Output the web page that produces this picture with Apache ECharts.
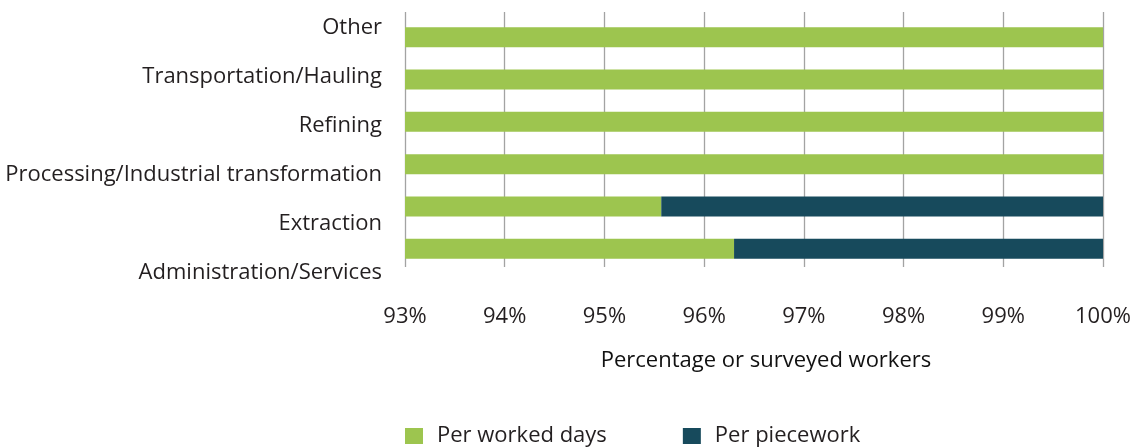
<!DOCTYPE html>
<html>
<head>
<meta charset="utf-8">
<script src="https://cdn.jsdelivr.net/npm/echarts@6/dist/echarts.min.js"></script>
<style>
  html, body { margin: 0; padding: 0; background: #fff; }
  #chart { width: 1145px; height: 448px; }
</style>
</head>
<body>
<div id="chart"></div>
<script>
// Sectors, listed top to bottom
const sectors = [
  'Other',
  'Transportation/Hauling',
  'Refining',
  'Processing/Industrial transformation',
  'Extraction',
  'Administration/Services'
];
// Share of surveyed workers by pay method (%)
const perWorkedDays = [100, 100, 100, 100, 95.57, 96.30];
const perPiecework  = [0, 0, 0, 0, 4.43, 3.70];
// Horizontal scale
const axisMin = 93;
const axisMax = 100;
const axisStep = 1;

const FONT = '"Open Sans", "Noto Sans", sans-serif';
const FS = 22;
const GREEN = '#9dc54f';
const TEAL = '#174a5c';
const TEXT = '#231f20';

const chart = echarts.init(document.getElementById('chart'), null, { renderer: 'canvas' });

chart.setOption({
  animation: false,
  backgroundColor: '#fff',
  grid: [
    // bars
    { left: 405, right: 42, top: 16, height: 254 },
    // sector labels
    { left: 405, right: 42, top: 3, height: 294 },
    // vertical gridlines
    { left: 405, right: 42, top: 12, height: 255 }
  ],
  xAxis: [
    {
      gridIndex: 0, type: 'value', min: axisMin, max: axisMax, interval: axisStep,
      axisLine: { show: false }, axisTick: { show: false }, splitLine: { show: false },
      axisLabel: {
        formatter: '{value}%', fontFamily: FONT, fontSize: FS, color: TEXT,
        margin: 35, lineHeight: 24
      }
    },
    { gridIndex: 1, type: 'value', show: false, min: 0, max: 1 },
    {
      gridIndex: 2, type: 'value', min: axisMin, max: axisMax, interval: axisStep,
      axisLine: { show: false }, axisTick: { show: false }, axisLabel: { show: false },
      splitLine: { show: true, lineStyle: { color: '#a3a3a3', width: 1.3 } }
    }
  ],
  yAxis: [
    {
      gridIndex: 0, type: 'category', data: sectors, inverse: true,
      axisLine: { show: false }, axisTick: { show: false }, axisLabel: { show: false }
    },
    {
      gridIndex: 1, type: 'category', data: sectors, inverse: true,
      axisLine: { show: false }, axisTick: { show: false },
      axisLabel: { fontFamily: FONT, fontSize: FS, color: TEXT, margin: 23 }
    },
    {
      gridIndex: 2, type: 'category', data: sectors, inverse: true, show: false
    }
  ],
  legend: {
    left: 400, top: 420,
    itemWidth: 18, itemHeight: 16, itemGap: 76,
    icon: 'rect',
    textStyle: { fontFamily: FONT, fontSize: FS, color: TEXT, padding: [0, 0, 0, 9] },
    data: ['Per worked days', 'Per piecework']
  },
  graphic: [
    {
      type: 'text', x: 766, y: 361,
      style: {
        text: 'Percentage or surveyed workers',
        font: FS + 'px ' + FONT, fill: '#111',
        textAlign: 'center', textVerticalAlign: 'middle',
        align: 'center', verticalAlign: 'middle'
      }
    }
  ],
  series: [
    {
      name: 'Per worked days', type: 'bar', stack: 'pay',
      xAxisIndex: 0, yAxisIndex: 0, barWidth: 20,
      itemStyle: { color: GREEN }, data: perWorkedDays
    },
    {
      name: 'Per piecework', type: 'bar', stack: 'pay',
      xAxisIndex: 0, yAxisIndex: 0, barWidth: 20,
      itemStyle: { color: TEAL }, data: perPiecework
    }
  ]
});
</script>
</body>
</html>
